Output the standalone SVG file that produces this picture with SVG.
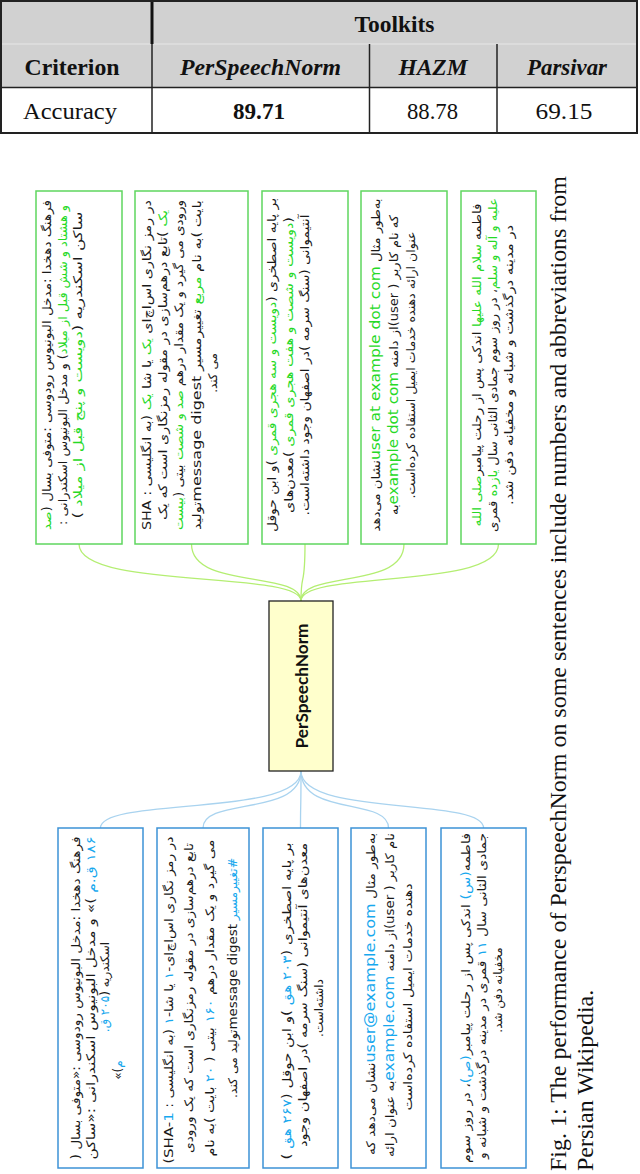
<svg xmlns="http://www.w3.org/2000/svg" width="640" height="1174" viewBox="0 0 640 1174">
<style>
.fa{font-family:"DejaVu Sans",sans-serif;font-size:12px;fill:#1a1a1a;direction:rtl;text-anchor:middle}
.tb{font-family:"Liberation Serif","Times New Roman",serif;font-size:24px;fill:#111;text-anchor:middle}
.bd{font-weight:bold}
.it{font-style:italic}
.g{fill:#26d926}
.b{fill:#17a8ee}
.en{font-size:14px}
.gbox{fill:#fff;stroke:#5fd65f;stroke-width:1.5}
.bbox{fill:#fff;stroke:#3d92d6;stroke-width:1.5}
.gc{fill:none;stroke:#b4ee72;stroke-width:1.3}
.bc{fill:none;stroke:#a9d3ef;stroke-width:1.3}
.cap{font-family:"Liberation Serif","Times New Roman",serif;font-size:24px;fill:#111}
</style>
<rect width="640" height="1174" fill="#fff"/>
<g id="table" font-family="Liberation Serif, Times New Roman, serif">
<rect x="1" y="1" width="636" height="86.5" fill="#d1d1d1"/>
<line x1="1" y1="44" x2="637" y2="44" stroke="#e8e8e8" stroke-width="1.2"/>
<line x1="1" y1="87.5" x2="637" y2="87.5" stroke="#222" stroke-width="1.5"/>
<line x1="152" y1="1" x2="152" y2="44" stroke="#111" stroke-width="3"/>
<line x1="152" y1="44" x2="152" y2="133" stroke="#222" stroke-width="1.5"/>
<line x1="369.5" y1="44" x2="369.5" y2="133" stroke="#222" stroke-width="1.5"/>
<line x1="497" y1="44" x2="497" y2="133" stroke="#222" stroke-width="1.5"/>
<rect x="1" y="1" width="636" height="132" fill="none" stroke="#222" stroke-width="2"/>
<text class="tb bd" x="394.5" y="32" textLength="80" lengthAdjust="spacingAndGlyphs">Toolkits</text>
<text class="tb bd" x="72" y="75" textLength="95" lengthAdjust="spacingAndGlyphs">Criterion</text>
<text class="tb bd it" x="260.5" y="75" textLength="161" lengthAdjust="spacingAndGlyphs">PerSpeechNorm</text>
<text class="tb bd it" x="433" y="75" textLength="69" lengthAdjust="spacingAndGlyphs">HAZM</text>
<text class="tb bd it" x="567" y="75" textLength="80" lengthAdjust="spacingAndGlyphs">Parsivar</text>
<text class="tb" x="70" y="119" textLength="94" lengthAdjust="spacingAndGlyphs">Accuracy</text>
<text class="tb bd" x="259" y="119" textLength="52" lengthAdjust="spacingAndGlyphs">89.71</text>
<text class="tb" x="432.5" y="119" textLength="51" lengthAdjust="spacingAndGlyphs">88.78</text>
<text class="tb" x="564" y="119" textLength="57" lengthAdjust="spacingAndGlyphs">69.15</text>
</g>
<g id="connectors">
<path class="gc" d="M79 544 C79 590 301 570 301 601"/>
<path class="gc" d="M191.5 544 C191.5 590 301 570 301 601"/>
<path class="gc" d="M305 544 C305 590 301 570 301 601"/>
<path class="gc" d="M404 544 C404 590 301 570 301 601"/>
<path class="gc" d="M498.5 544 C498.5 590 301 570 301 601"/>
<path class="bc" d="M301 771 C301 817 100.5 797 100.5 828"/>
<path class="bc" d="M301 771 C301 817 203 797 203 828"/>
<path class="bc" d="M301 771 C301 817 300.5 797 300.5 828"/>
<path class="bc" d="M301 771 C301 817 388.5 797 388.5 828"/>
<path class="bc" d="M301 771 C301 817 483.5 797 483.5 828"/>
</g>
<g id="center">
<rect x="269" y="601" width="64" height="170" fill="#ffffcc" stroke="#222" stroke-width="1.3"/>
<text transform="translate(307.5,686) rotate(-90)" text-anchor="middle" font-family="Lato,'Open Sans',sans-serif" font-weight="bold" font-size="17" fill="#111" textLength="125" lengthAdjust="spacingAndGlyphs">PerSpeechNorm</text>
</g>
<g id="g1">
<rect class="gbox" x="36" y="191" width="86" height="353"/>
<g transform="translate(36,544) rotate(-90)">
<text class="fa" x="179" y="15" textLength="330" lengthAdjust="spacingAndGlyphs">فرهنگ دهخدا :مدخل البونیوس رودوسی :متوفی بسال (<tspan class="g">صد</tspan></text>
<text class="fa" x="179" y="30.5" textLength="320" lengthAdjust="spacingAndGlyphs"><tspan class="g">و هشتاد و شش قبل از میلاد</tspan>) و مدخل البونیوس اسکندرانی :</text>
<text class="fa" x="179" y="46" textLength="307" lengthAdjust="spacingAndGlyphs">ساکن اسکندریه  (<tspan class="g">دویست و پنج قبل از میلاد</tspan> )</text>
</g>
</g>
<g id="g2">
<rect class="gbox" x="135" y="191" width="113" height="353"/>
<g transform="translate(135,544) rotate(-90)">
<text class="fa" x="179" y="16" textLength="330" lengthAdjust="spacingAndGlyphs">در رمز نگاری اس‌اچ‌ای <tspan class="g">یک</tspan> یا شا <tspan class="g">یک</tspan>  (به انگلیسی : SHA</text>
<text class="fa" x="179" y="32" textLength="310" lengthAdjust="spacingAndGlyphs"><tspan class="g">یک</tspan> )تابع درهم‌سازی در مقوله رمزنگاری است که یک</text>
<text class="fa" x="179" y="48" textLength="330" lengthAdjust="spacingAndGlyphs">ورودی می گیرد و یک مقدار درهم <tspan class="g">صد و شصت</tspan> بیتی  (<tspan class="g">بیست</tspan></text>
<text class="fa" x="179" y="66" textLength="330" lengthAdjust="spacingAndGlyphs">بایت )به نام <tspan class="g">مربع</tspan> تغییرمسیر  <tspan font-size="13">message digest</tspan>تولید</text>
<text class="fa" x="171" y="82">می کند.</text>
</g>
</g>
<g id="g3">
<rect class="gbox" x="262" y="191" width="86" height="353"/>
<g transform="translate(262,544) rotate(-90)">
<text class="fa" x="179" y="14" textLength="334" lengthAdjust="spacingAndGlyphs">بر پایه اصطخری  (<tspan class="g">دویست و سه هجری قمری</tspan> )و ابن حوقل</text>
<text class="fa" x="179" y="31" textLength="296" lengthAdjust="spacingAndGlyphs">(<tspan class="g">دویست و شصت و هفت هجری قمری</tspan> )معدن‌های</text>
<text class="fa" x="179" y="47" textLength="301" lengthAdjust="spacingAndGlyphs">آنتیموانی  (سنگ سرمه )در اصفهان وجود داشته‌است.</text>
</g>
</g>
<g id="g4">
<rect class="gbox" x="361" y="191" width="86" height="353"/>
<g transform="translate(361,544) rotate(-90)">
<text class="fa" x="179" y="19" textLength="333" lengthAdjust="spacingAndGlyphs">به‌طور مثال  <tspan class="g en">user at example dot com</tspan>نشان می‌دهد</text>
<text class="fa" x="179" y="37" textLength="300" lengthAdjust="spacingAndGlyphs">که نام کاربر ( user)از دامنه <tspan class="g en">example dot com</tspan>به</text>
<text class="fa" x="179" y="54" textLength="267" lengthAdjust="spacingAndGlyphs">عنوان ارائه دهنده خدمات ایمیل استفاده کرده‌است.</text>
</g>
</g>
<g id="g5">
<rect class="gbox" x="461" y="191" width="75" height="353"/>
<g transform="translate(461,544) rotate(-90)">
<text class="fa" x="179" y="20" textLength="323" lengthAdjust="spacingAndGlyphs">فاطمه <tspan class="g">سلام الله علیها</tspan> اندکی پس از رحلت پیامبر<tspan class="g">صلی الله</tspan></text>
<text class="fa" x="179" y="36" textLength="334" lengthAdjust="spacingAndGlyphs"><tspan class="g">علیه و آله و سلم</tspan>، در روز سوم جمادی الثانی سال <tspan class="g">یازده</tspan> قمری</text>
<text class="fa" x="179" y="52" textLength="280" lengthAdjust="spacingAndGlyphs">در مدینه درگذشت و شبانه و مخفیانه دفن شد.</text>
</g>
</g>
<g id="b1">
<rect class="bbox" x="58" y="828" width="85" height="340"/>
<g transform="translate(58,1168) rotate(-90)">
<text class="fa" x="170" y="22" textLength="323" lengthAdjust="spacingAndGlyphs">فرهنگ دهخدا :مدخل البونیوس رودوسی :«متوفی بسال (</text>
<text class="fa" x="170" y="37" textLength="323" lengthAdjust="spacingAndGlyphs"><tspan class="b">۱۸۶ ق.م</tspan> )» و مدخل البونیوس اسکندرانی :«ساکن</text>
<text class="fa" x="181" y="51">اسکندریه (<tspan class="b">۲۰۵ ق.</tspan></text>
<text class="fa" x="98" y="64"><tspan class="b">م</tspan>)»</text>
</g>
</g>
<g id="b2">
<rect class="bbox" x="157" y="828" width="92" height="340"/>
<g transform="translate(157,1168) rotate(-90)">
<text class="fa" x="168" y="16" textLength="327" lengthAdjust="spacingAndGlyphs">در رمز نگاری اس‌اچ‌ای-<tspan class="b">۱</tspan> یا شا-<tspan class="b">۱</tspan> (به انگلیسی : <tspan font-size="13">SHA-<tspan class="b">1</tspan></tspan>)</text>
<text class="fa" x="170" y="36" textLength="310" lengthAdjust="spacingAndGlyphs">تابع درهم‌سازی در مقوله رمزنگاری است که یک ورودی</text>
<text class="fa" x="170" y="57" textLength="317" lengthAdjust="spacingAndGlyphs">می گیرد و یک مقدار درهم <tspan class="b">۱۶۰</tspan> بیتی ( <tspan class="b">۲۰</tspan> بایت )به نام</text>
<text class="fa" x="190" y="80" textLength="240" lengthAdjust="spacingAndGlyphs"><tspan class="b">#تغییرمسیر</tspan>  <tspan font-size="13">message digest</tspan>تولید می کند.</text>
</g>
</g>
<g id="b3">
<rect class="bbox" x="263" y="828" width="75" height="340"/>
<g transform="translate(263,1168) rotate(-90)">
<text class="fa" x="167" y="28" textLength="317" lengthAdjust="spacingAndGlyphs">بر پایه اصطخری (<tspan class="b">۲۰۳ هق</tspan> )و ابن حوقل (<tspan class="b">۲۶۷ هق</tspan> )</text>
<text class="fa" x="173" y="44" textLength="304" lengthAdjust="spacingAndGlyphs">معدن‌های آنتیموانی (سنگ سرمه )در اصفهان وجود</text>
<text class="fa" x="160" y="60">داشته‌است.</text>
</g>
</g>
<g id="b4">
<rect class="bbox" x="351" y="828" width="75" height="340"/>
<g transform="translate(351,1168) rotate(-90)">
<text class="fa" x="174" y="24" textLength="322" lengthAdjust="spacingAndGlyphs">به‌طور مثال  <tspan class="b en">user@example.com</tspan>نشان می‌دهد که</text>
<text class="fa" x="173" y="43" textLength="324" lengthAdjust="spacingAndGlyphs">نام کاربر ( user)از دامنه <tspan class="b en">example.com</tspan>به عنوان ارائه</text>
<text class="fa" x="171" y="61" textLength="227" lengthAdjust="spacingAndGlyphs">دهنده خدمات ایمیل استفاده کرده‌است</text>
</g>
</g>
<g id="b5">
<rect class="bbox" x="441" y="828" width="85" height="340"/>
<g transform="translate(441,1168) rotate(-90)">
<text class="fa" x="170" y="29" textLength="330" lengthAdjust="spacingAndGlyphs">فاطمه<tspan class="b">(س)</tspan> اندکی پس از رحلت پیامبر<tspan class="b">(ص)</tspan>، در روز سوم</text>
<text class="fa" x="172" y="45" textLength="326" lengthAdjust="spacingAndGlyphs">جمادی الثانی سال <tspan class="b">۱۱</tspan> قمری در مدینه درگذشت و شبانه و</text>
<text class="fa" x="178" y="61">مخفیانه دفن شد.</text>
</g>
</g>
<g id="caption">
<text class="cap" transform="translate(566,1171) rotate(-90)" textLength="995" lengthAdjust="spacingAndGlyphs">Fig. 1: The performance of PerspeechNorm on some sentences include numbers and abbreviations from</text>
<text class="cap" transform="translate(593,1171) rotate(-90)">Persian Wikipedia.</text>
</g>
</svg>
